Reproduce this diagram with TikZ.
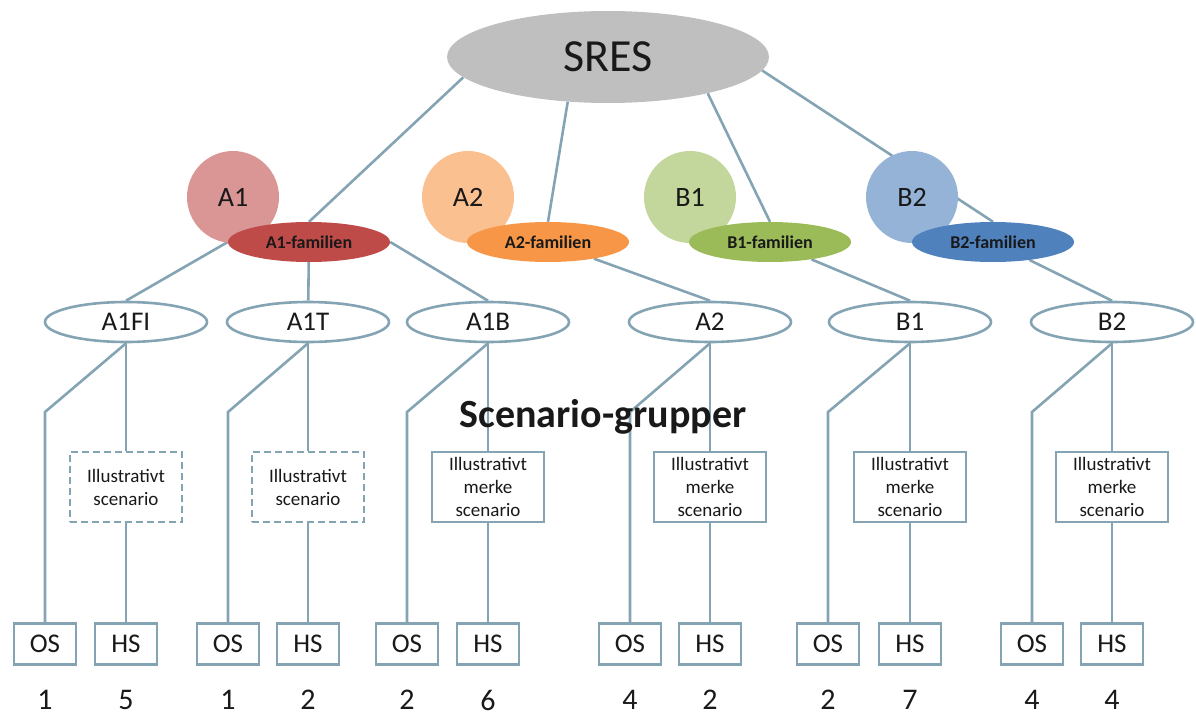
\documentclass[tikz,border=0pt]{standalone}
\usepackage{fontspec}
\setmainfont{Carlito}
\usetikzlibrary{positioning,shapes.geometric,backgrounds}
\definecolor{edge}{HTML}{84A4B4}
\definecolor{sres}{HTML}{BFBFBF}
\definecolor{aonec}{HTML}{D99694}
\definecolor{aonef}{HTML}{BE4B48}
\definecolor{atwoc}{HTML}{FAC090}
\definecolor{atwof}{HTML}{F79646}
\definecolor{bonec}{HTML}{C3D69B}
\definecolor{bonef}{HTML}{9BBB59}
\definecolor{btwoc}{HTML}{95B3D7}
\definecolor{btwof}{HTML}{4F81BD}

\begin{document}
\begin{tikzpicture}[x=1pt,y=-1pt,node distance=24pt, every node/.style={align=center,inner sep=0pt,text=black!90}, top/.style={ellipse,fill=sres,minimum width=322pt,minimum height=92pt,font=\fontsize{46}{50}\selectfont}, circ/.style={circle,minimum size=92pt,font=\fontsize{28}{32}\selectfont}, fam/.style={ellipse,minimum width=162pt,minimum height=40pt,font=\bfseries\fontsize{18}{20}\selectfont}, grp/.style={ellipse,draw=edge,line width=2.6pt,fill=white,minimum width=162pt,minimum height=40pt,font=\fontsize{27}{30}\selectfont}, ill/.style={draw=edge,line width=2.6pt,fill=white,minimum width=112pt,minimum height=70pt,font=\fontsize{19}{23}\selectfont}, illd/.style={ill,dash pattern=on 7pt off 4pt}, leaf/.style={draw=edge,line width=2.6pt,fill=white,minimum width=62pt,minimum height=41pt,font=\fontsize{27}{30}\selectfont}, num/.style={font=\fontsize{30}{32}\selectfont}, l/.style={draw=edge,line width=2.6pt}]
\useasboundingbox (0,0) rectangle (1196,717);
\coordinate (bend) at (0,412);
% top and families
\node[top] (sres) at (608,57) {SRES};
\node[circ,fill=aonec] (a1) at (233,197) {A1};
\node[circ,fill=atwoc] (a2) at (468,197) {A2};
\node[circ,fill=bonec] (b1) at (690,197) {B1};
\node[circ,fill=btwoc] (b2) at (912,197) {B2};
\node[fam,fill=aonef] (a1f) at (309,242) {A1-familien};
\node[fam,fill=atwof] (a2f) at (548,242) {A2-familien};
\node[fam,fill=bonef] (b1f) at (770,242) {B1-familien};
\node[fam,fill=btwof] (b2f) at (993,242) {B2-familien};
% scenario groups
\node[grp] (a1fi) at (126,322) {A1FI};
\node[grp] (a1t) at (308,322) {A1T};
\node[grp] (a1b) at (488,322) {A1B};
\node[grp] (a2g) at (710,322) {A2};
\node[grp] (b1g) at (910,322) {B1};
\node[grp] (b2g) at (1112,322) {B2};
\node[font=\bfseries\fontsize{40}{44}\selectfont,anchor=base] (title) at (603,427) {Scenario-grupper};
\node[illd] (i1) at (126,487) {Illustrativt\\scenario};
\node[illd] (i2) at (308,487) {Illustrativt\\scenario};
\node[ill] (i3) at (488,487) {Illustrativt\\merke\\scenario};
\node[ill] (i4) at (710,487) {Illustrativt\\merke\\scenario};
\node[ill] (i5) at (910,487) {Illustrativt\\merke\\scenario};
\node[ill] (i6) at (1112,487) {Illustrativt\\merke\\scenario};
% leaves
\node[leaf] (os1) at (45,644) {OS}; \node[leaf] (hs1) at (126,644) {HS};
\node[leaf] (os2) at (228,644) {OS}; \node[leaf] (hs2) at (308,644) {HS};
\node[leaf] (os3) at (407,644) {OS}; \node[leaf] (hs3) at (488,644) {HS};
\node[leaf] (os4) at (630,644) {OS}; \node[leaf] (hs4) at (710,644) {HS};
\node[leaf] (os5) at (828,644) {OS}; \node[leaf] (hs5) at (910,644) {HS};
\node[leaf] (os6) at (1032,644) {OS}; \node[leaf] (hs6) at (1112,644) {HS};
\node[num,below=of os1] (n1) {1}; \node[num,below=of hs1] (n2) {5};
\node[num,below=of os2] (n3) {1}; \node[num,below=of hs2] (n4) {2};
\node[num,below=of os3] (n5) {2}; \node[num,below=of hs3] (n6) {6};
\node[num,below=of os4] (n7) {4}; \node[num,below=of hs4] (n8) {2};
\node[num,below=of os5] (n9) {2}; \node[num,below=of hs5] (n10) {7};
\node[num,below=of os6] (n11) {4}; \node[num,below=of hs6] (n12) {4};
\begin{scope}[on background layer]
\draw[l] (sres.188)--(a1f.north);\draw[l] (sres.228)--(a2f.north);
\draw[l] (sres.340)--(b1f.north);\draw[l] (sres.355)--(b2f.north);
\draw[l] (a1f.west)--(a1fi.north);\draw[l] (a1f)--(a1t);\draw[l] (a1f.east)--(a1b.north);
\draw[l] (a2f)--(a2g.north);\draw[l] (b1f)--(b1g.north);\draw[l] (b2f)--(b2g.north);
\draw[l] (a1fi.south)--(os1.north |- bend)--(os1.north);\draw[l] (a1fi)--(i1);\draw[l] (i1)--(hs1);
\draw[l] (a1t.south)--(os2.north |- bend)--(os2.north);\draw[l] (a1t)--(i2);\draw[l] (i2)--(hs2);
\draw[l] (a1b.south)--(os3.north |- bend)--(os3.north);\draw[l] (a1b)--(i3);\draw[l] (i3)--(hs3);
\draw[l] (a2g.south)--(os4.north |- bend)--(os4.north);\draw[l] (a2g)--(i4);\draw[l] (i4)--(hs4);
\draw[l] (b1g.south)--(os5.north |- bend)--(os5.north);\draw[l] (b1g)--(i5);\draw[l] (i5)--(hs5);
\draw[l] (b2g.south)--(os6.north |- bend)--(os6.north);\draw[l] (b2g)--(i6);\draw[l] (i6)--(hs6);
\end{scope}
\end{tikzpicture}
\end{document}
